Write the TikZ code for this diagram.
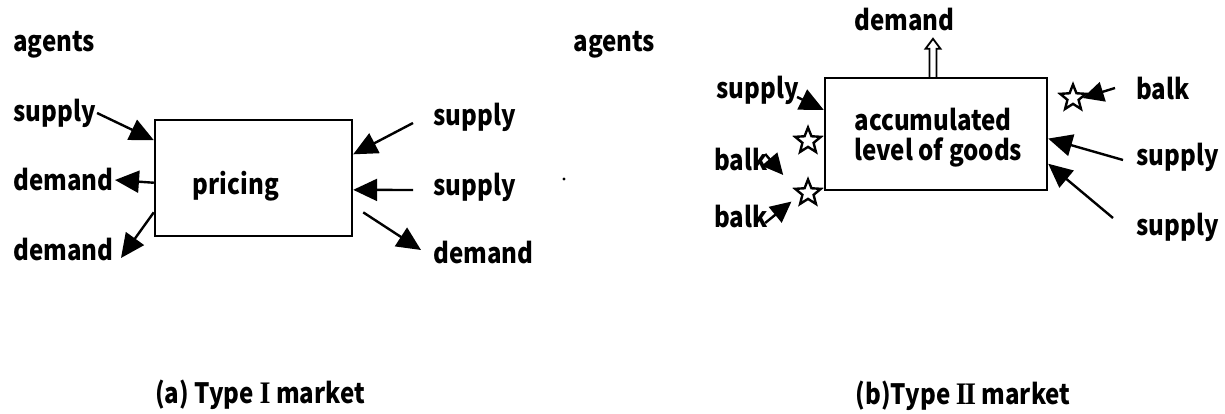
\documentclass[tikz,border=0pt]{standalone}
\usepackage{fontspec}
\setmainfont{Noto Sans CJK JP}[FakeStretch=0.86]
\newfontfamily\romfont{Liberation Serif}[Scale=1.12,FakeStretch=0.9]
\usetikzlibrary{arrows.meta,shapes.geometric,calc}
\begin{document}
\begin{tikzpicture}[x=0.5pt,y=-0.5pt,
  lbl/.style={font=\fontsize{14}{16}\selectfont\bfseries, inner sep=0.5pt, anchor=west},
  captxt/.style={font=\fontsize{14}{16}\selectfont\bfseries, inner sep=0.5pt},
  boxnode/.style={draw, line width=1.2pt, inner sep=0pt},
  arr/.style={line width=1.2pt, -{Triangle[length=12pt,width=11pt]}},
  arrs/.style={line width=1.2pt, -{Triangle[length=10.5pt,width=10pt]}},
  hstar/.style={star, star points=5, star point ratio=2.3, draw, line width=1.2pt, minimum size=13.5pt, inner sep=0pt},
  hollow/.style={draw, line width=0.9pt, fill=white, line join=miter}
]
\useasboundingbox (0,0) rectangle (1225,413);

% ---------- (a) Type I market ----------
\node[boxnode, minimum width=98.5pt, minimum height=58pt] (bL) at (253.5,178) {};
\node[lbl, anchor=center] (pr) at (236,186) {pricing};

\node[lbl] (agL) at (12,45) {agents};
\node[lbl] (sL1) at (12,113) {supply};
\node[lbl] (dL1) at (12,180) {demand};
\node[lbl] (dL2) at (12,250) {demand};
\node[lbl] (sR1) at (432,117) {supply};
\node[lbl] (sR2) at (432,187) {supply};
\node[lbl] (dR)  at (432,253) {demand};

\draw[arr] (sL1.east) -- ($(bL.north west)!0.18!(bL.south west)$);
\draw[arr] ($(bL.north west)!0.54!(bL.south west)$) -- (dL1.east);
\draw[arr] ($(bL.north west)!0.79!(bL.south west)$) -- ($(dL2.east)+(6,8)$);
\draw[arr] ($(sR1.west)+(-19,6)$) -- ($(bL.north east)!0.30!(bL.south east)$);
\draw[arr] ($(sR2.west)+(-19,3)$) -- ($(bL.north east)!0.60!(bL.south east)$);
\draw[arr] ($(bL.north east)!0.79!(bL.south east)+(10,0)$) -- ($(dR.west)+(-11,-3)$);

\fill (564,179) circle (0.8pt);

\node[captxt] (capA) at (260,395) {(a) Type {\romfont\bfseries I} market};

% ---------- (b) Type II market ----------
\node[boxnode, minimum width=111pt, minimum height=56pt] (bR) at (936,134) {};
\node[lbl, align=left, anchor=north west, font=\fontsize{14}{15}\selectfont\bfseries] (acc) at (853,107) {accumulated\\level of goods};

\node[lbl] (agR) at (572,45) {agents};
\node[lbl] (dT)  at (853,20) {demand};
\node[lbl] (sB1) at (715,90) {supply};
\node[lbl] (bk1) at (713,160) {balk};
\node[lbl] (bk2) at (713,217) {balk};
\node[lbl] (bk3) at (1135,89) {balk};
\node[lbl] (sB2) at (1135,157) {supply};
\node[lbl] (sB3) at (1135,227) {supply};

\node[hstar] (st1) at (808,141) {};
\node[hstar] (st2) at (808,193) {};
\node[hstar] (st3) at (1073,98) {};

\draw[arr] ($(sB1.east)+(-3,7)$) -- ($(bR.north west)!0.29!(bR.south west)$);
\draw[arrs] ($(bk1.east)+(-4,-6)$) -- ($(bk1.east)+(14,15)$);
\draw[arrs] ($(bk2.east)+(-4,6)$) -- ($(st2.south west)+(-8,0)$);
\draw[arrs] ($(bk3.west)+(-20,-1)$) -- (st3.east);
\draw[arr] ($(sB2.west)+(-12,3)$) -- ($(bR.north east)!0.54!(bR.south east)$);
\draw[arr] ($(sB3.west)+(-22,-9)$) -- ($(bR.north east)!0.76!(bR.south east)$);

\begin{scope}[shift={($(bR.north)+(-3,0)$)}]
  \draw[hollow] (-3.5,0) -- (-3.5,-28) -- (-7.5,-28) -- (0,-38) -- (7.5,-28) -- (3.5,-28) -- (3.5,0);
\end{scope}

\node[captxt] (capB) at (963,396) {(b)Type {\romfont\bfseries I\kern-0.06em I} market};
\end{tikzpicture}
\end{document}
